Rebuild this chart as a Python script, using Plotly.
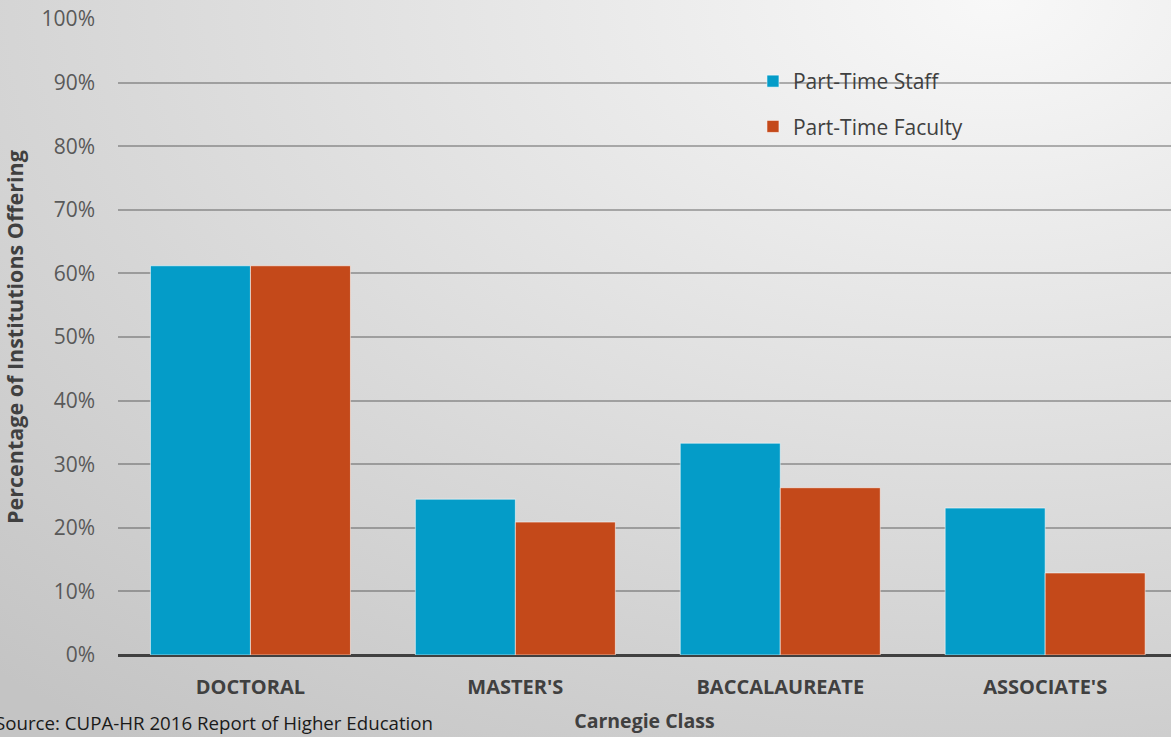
import base64
import plotly.graph_objects as go

categories = ["DOCTORAL", "MASTER'S", "BACCALAUREATE", "ASSOCIATE'S"]
part_time_staff = [61.2, 24.5, 33.3, 23.1]
part_time_faculty = [61.2, 20.9, 26.3, 12.9]
y_ticks = [0, 10, 20, 30, 40, 50, 60, 70, 80, 90, 100]
y_tick_labels = [f"{v}%" for v in y_ticks]

FONT = "'Open Sans', Lato, sans-serif"

svg = """<svg xmlns='http://www.w3.org/2000/svg' width='1171' height='737'>
<defs><radialGradient id='g' cx='0.85' cy='0' r='1.25' fx='0.85' fy='0'>
<stop offset='0' stop-color='#f8f8f8'/><stop offset='1' stop-color='#c4c4c4'/>
</radialGradient></defs><rect width='1171' height='737' fill='url(#g)'/></svg>"""
bg_uri = "data:image/svg+xml;base64," + base64.b64encode(svg.encode()).decode()

fig = go.Figure()
fig.add_trace(go.Bar(
    x=categories, y=part_time_staff, name="Part-Time Staff",
    marker=dict(color="#049CC8", line=dict(color="rgba(255,255,255,0.55)", width=1)),
    legendgroup="a",
))
fig.add_trace(go.Bar(
    x=categories, y=part_time_faculty, name="Part-Time Faculty",
    marker=dict(color="#C4491A", line=dict(color="rgba(255,255,255,0.55)", width=1)),
    legendgroup="b",
))

fig.update_layout(
    width=1171, height=737,
    margin=dict(l=118, r=0, t=19, b=82),
    paper_bgcolor="rgba(0,0,0,0)",
    plot_bgcolor="rgba(0,0,0,0)",
    barmode="group", bargap=0.245, bargroupgap=0,
    font=dict(family=FONT, color="#404040"),
    images=[dict(source=bg_uri, xref="paper", yref="paper", x=-118/1053, y=1 + 19/636,
                 sizex=1171/1053, sizey=737/636, xanchor="left", yanchor="top",
                 sizing="stretch", layer="below")],
    legend=dict(x=0.603, y=0.934, xanchor="left", yanchor="top",
                bgcolor="rgba(0,0,0,0)", font=dict(size=21, color="#404040", family=FONT),
                tracegroupgap=15, itemwidth=30),
    xaxis=dict(
        range=[-0.5, 3.475], showgrid=False, showline=False, zeroline=False,
        tickfont=dict(size=20, color="#404040", family=FONT, weight="bold"),
        ticks="", ticklabelstandoff=18,
        title=dict(text="<b>Carnegie Class</b>", font=dict(size=19.5, color="#404040"), standoff=15),
    ),
    yaxis=dict(
        range=[0, 100], tickmode="array", tickvals=y_ticks, ticktext=y_tick_labels,
        tickfont=dict(size=21, color="#595959", family=FONT),
        showgrid=True, gridcolor="rgba(60,60,60,0.38)", gridwidth=1.5,
        zeroline=True, zerolinecolor="#404040", zerolinewidth=3,
        ticks="", ticklabelstandoff=22,
        title=dict(text="<b>Percentage of Institutions Offering</b>",
                   font=dict(size=21.5, color="#404040"), standoff=12),
    ),
    showlegend=True,
)

fig.add_annotation(
    text="Source: CUPA-HR 2016 Report of Higher Education",
    xref="paper", yref="paper", x=-125/1053, y=-67/636,
    xanchor="left", yanchor="middle", showarrow=False,
    font=dict(size=18.7, color="#1a1a1a", family=FONT),
)

fig.write_html("out.html", config={"displayModeBar": False},
               post_script="document.body.style.margin='0';")
